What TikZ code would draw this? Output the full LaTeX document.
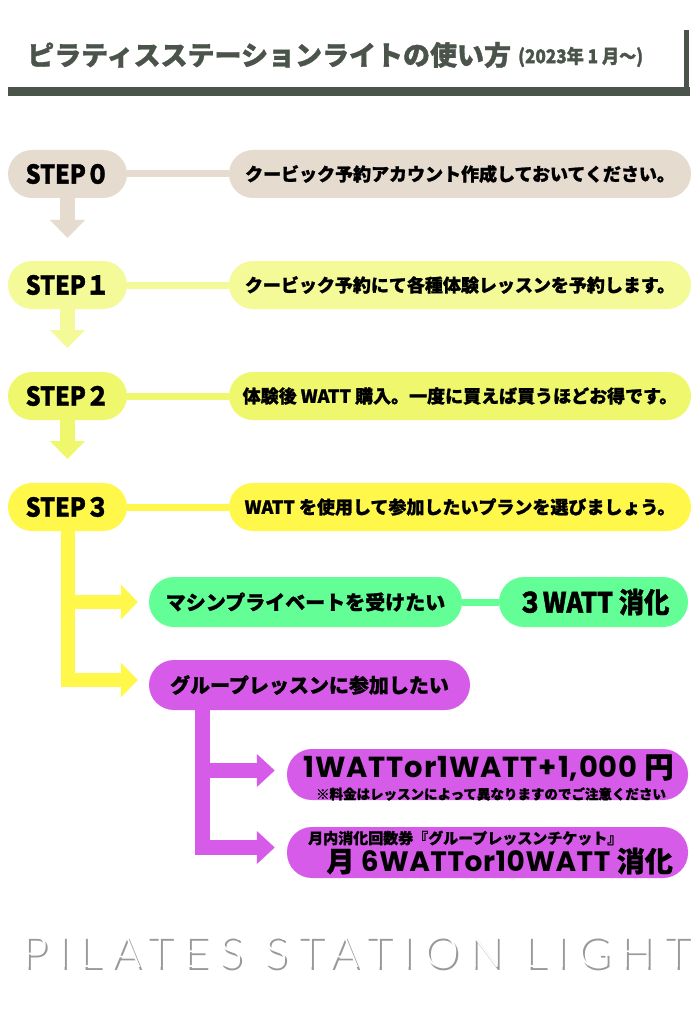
\documentclass[tikz,border=0pt]{standalone}
\usepackage{fontspec}
\setmainfont{Noto Sans CJK JP}[BoldFeatures={FakeBold=1.2}]
\newfontfamily\stepf{Noto Sans CJK JP}[FakeStretch=0.9, BoldFeatures={FakeBold=1.4}]
\newfontfamily\pop{Poppins}
\newfontfamily\thin{Lato Light}
\usetikzlibrary{arrows.meta}
\definecolor{dark}{HTML}{4A544B}
\definecolor{cz}{HTML}{E6DBCF}
\definecolor{ca}{HTML}{F4FA98}
\definecolor{cb}{HTML}{EFF86C}
\definecolor{cc}{HTML}{FFF84A}
\definecolor{cg}{HTML}{63FF96}
\definecolor{cp}{HTML}{D65BE9}
\tikzset{
  pill/.style={rounded corners=24pt, minimum height=48pt, inner sep=0pt},
  stepbox/.style={pill, minimum width=119pt, font=\stepf\bfseries\fontsize{26}{26}\selectfont},
  textbox/.style={pill, minimum width=462pt, font=\bfseries\fontsize{18}{20}\selectfont},
  link/.style={line width=7pt},
  downarrow/.style={line width=15pt, -{Triangle[length=18pt,width=34pt]}},
  branch/.style={line width=14pt, line join=miter, -{Triangle[length=17pt,width=34pt]}},
  pbranch/.style={line width=15pt, line join=miter, -{Triangle[length=18pt,width=32pt]}},
  brandfont/.style={font=\thin\fontsize{44}{44}\selectfont\addfontfeatures{LetterSpace=23}, inner sep=0pt},
}
\begin{document}
\begin{tikzpicture}[x=1pt,y=-1pt]
\useasboundingbox (0,0) rectangle (694,1024);
\fill[white] (0,0) rectangle (694,1024);
% title
\fill[dark] (8,87) rectangle (690,96);
\fill[dark] (684,30) rectangle (689,96);
\node[anchor=west, inner sep=0pt, text=dark, font=\bfseries\fontsize{27}{29}\selectfont] (title) at (27,55) {ピラティスステーションライトの使い方};
\node[anchor=west, inner sep=0pt, text=dark, font=\stepf\bfseries\fontsize{19}{21}\selectfont] (date) at (518,57) {(2023年 1 月〜)};
% steps
\node[stepbox, fill=cz] (s0) at (67.5,174) {STEP０};
\node[textbox, fill=cz] (t0) at (460,174) {クービック予約アカウント作成しておいてください。};
\draw[link, cz] (s0.east) -- (t0.west);
\coordinate (a0) at (67.5,238);
\draw[downarrow, cz] (s0.south) -- (a0);

\node[stepbox, fill=ca] (s1) at (67.5,285) {STEP１};
\node[textbox, fill=ca] (t1) at (460,285) {クービック予約にて各種体験レッスンを予約します。};
\draw[link, ca] (s1.east) -- (t1.west);
\coordinate (a1) at (67.5,348);
\draw[downarrow, ca] (s1.south) -- (a1);

\node[stepbox, fill=cb] (s2) at (67.5,396) {STEP２};
\node[textbox, fill=cb] (t2) at (460,396) {体験後 WATT 購入。一度に買えば買うほどお得です。};
\draw[link, cb] (s2.east) -- (t2.west);
\coordinate (a2) at (67.5,459);
\draw[downarrow, cb] (s2.south) -- (a2);

\node[stepbox, fill=cc] (s3) at (67.5,507) {STEP３};
\node[textbox, fill=cc] (t3) at (460,507) {WATT を使用して参加したいプランを選びましょう。};
\draw[link, cc] (s3.east) -- (t3.west);

% green branch
\node[pill, rounded corners=25pt, minimum height=50pt, minimum width=313pt, fill=cg, font=\bfseries\fontsize{20}{22}\selectfont] (g1) at (305.5,602) {マシンプライベートを受けたい};
\node[pill, rounded corners=25pt, minimum height=50pt, minimum width=189pt, fill=cg, font=\stepf\bfseries\fontsize{28}{30}\selectfont] (g2) at (593.5,602) {３WATT 消化};
\draw[link, cg] (g1.east) -- (g2.west);
% purple
\node[pill, rounded corners=25pt, minimum height=50pt, minimum width=321pt, fill=cp, font=\bfseries\fontsize{20}{22}\selectfont] (p1) at (309.5,685) {グループレッスンに参加したい};
\draw[branch, cc] (s3.south) |- ([xshift=-11pt,yshift=5pt]p1.west);
\draw[branch, cc] (s3.south) |- ([xshift=-11pt]g1.west);

\node[pill, rounded corners=25pt, minimum height=51pt, minimum width=401pt, fill=cp] (q1) at (487.5,774.5) {};
\node[inner sep=0pt, font=\bfseries\fontsize{29}{30}\selectfont] (q1a) at (488.5,768) {{\pop\addfontfeatures{LetterSpace=3}1WATTor1WATT+1,000 }円};
\node[inner sep=0pt, font=\bfseries\fontsize{13.5}{15}\selectfont] (q1b) at (491,794) {※料金はレッスンによって異なりますのでご注意ください};

\node[pill, rounded corners=25pt, minimum height=51pt, minimum width=401pt, fill=cp] (q2) at (487.5,852.5) {};
\node[anchor=west, inner sep=0pt, font=\bfseries\fontsize{15}{17}\selectfont] (q2a) at (308,838) {月内消化回数券『グループレッスンチケット』};
\node[anchor=east, inner sep=0pt, font=\bfseries\fontsize{28}{30}\selectfont] (q2b) at (673,861) {月 {\pop\addfontfeatures{LetterSpace=2}6WATTor10WATT} 消化};

\draw[pbranch, cp] ([xshift=54pt]p1.south west) |- ([xshift=-12pt,yshift=5pt]q2.west);
\draw[pbranch, cp] ([xshift=54pt]p1.south west) |- ([xshift=-12pt,yshift=4pt]q1.west);

% brand
\node[brandfont, text=black!40] (brandshadow) at (358,954.5) {PILATES STATION LIGHT};
\node[brandfont, text=white] (brand) at (356,952) {PILATES STATION LIGHT};
\end{tikzpicture}
\end{document}
